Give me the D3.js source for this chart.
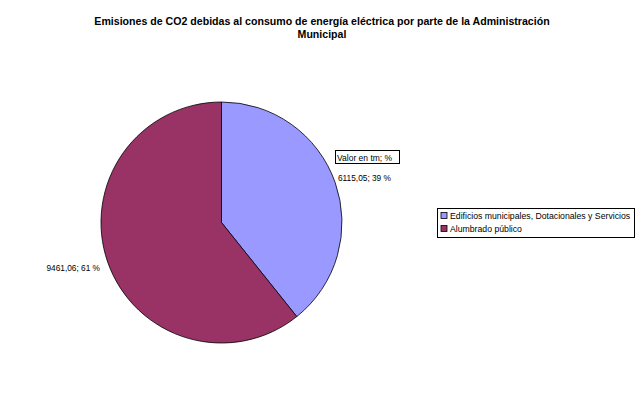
<!DOCTYPE html>
<html><head><meta charset="utf-8">
<script src="https://cdn.jsdelivr.net/npm/d3@7"></script>
<style>body{margin:0;background:#fff}svg{display:block}text{font-family:Arial,"Liberation Sans",sans-serif}</style>
</head><body>
<svg id="c" width="643" height="400"></svg>
<script>
const categories = ["Edificios municipales, Dotacionales y Servicios", "Alumbrado público"];
const values = [6115.05, 9461.06];
const percents = ["39 %", "61 %"];
const valueLabels = ["6115,05", "9461,06"];
const colors = ["#9999FF", "#993366"];
const titleLines = ["Emisiones de CO2 debidas al consumo de energía eléctrica por parte de la Administración", "Municipal"];

const svg = d3.select("#c");
svg.append("rect").attr("width",643).attr("height",400).attr("fill","#fff");

svg.selectAll("text.title").data(titleLines).join("text")
  .attr("class","title").attr("x",322).attr("y",(d,i)=>25+i*12.5)
  .attr("text-anchor","middle").attr("font-size","10.6px").attr("font-weight","bold")
  .text(d=>d);

const cx=221.5, cy=222.5, r=120.5;
const pie = d3.pie().sort(null).value(d=>d);
const arcs = pie(values);
const arc = d3.arc().innerRadius(0).outerRadius(r);
const g = svg.append("g").attr("transform",`translate(${cx},${cy})`);
g.selectAll("path").data(arcs).join("path")
  .attr("d",arc).attr("fill",(d,i)=>colors[i]).attr("stroke","#000").attr("stroke-width",0.8);

// data labels
const labelPos = [{x:338,y:181,anchor:"start"},{x:100,y:271,anchor:"end"}];
svg.selectAll("text.dl").data(arcs).join("text")
  .attr("class","dl").attr("x",(d,i)=>labelPos[i].x).attr("y",(d,i)=>labelPos[i].y)
  .attr("text-anchor",(d,i)=>labelPos[i].anchor).attr("font-size","8.3px")
  .text((d,i)=>valueLabels[i]+"; "+percents[i]);

// "Valor en tm; %" box
svg.append("rect").attr("x",335.5).attr("y",150.5).attr("width",64).attr("height",13)
  .attr("fill","#fff").attr("stroke","#000").attr("stroke-width",1);
svg.append("text").attr("x",337).attr("y",160.5).attr("font-size","8.5px").text("Valor en tm; %");

// legend
const lg = svg.append("g");
lg.append("rect").attr("x",437.5).attr("y",208.5).attr("width",197).attr("height",29)
  .attr("fill","#fff").attr("stroke","#000").attr("stroke-width",1);
const items = lg.selectAll("g.it").data(categories).join("g").attr("class","it")
  .attr("transform",(d,i)=>`translate(441,${212+i*13})`);
items.append("rect").attr("width",6).attr("height",6).attr("y",0.5)
  .attr("fill",(d,i)=>colors[i]).attr("stroke","#000").attr("stroke-width",0.8);
items.append("text").attr("x",9).attr("y",7).attr("font-size","8.7px").text(d=>d);
</script>
</body></html>
